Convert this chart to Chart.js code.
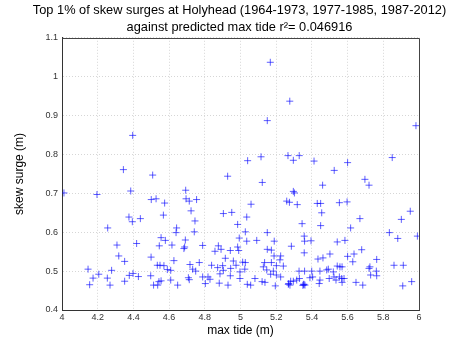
<!DOCTYPE html>
<html>
<head>
<meta charset="utf-8">
<script src="https://cdn.jsdelivr.net/npm/chart.js@4"></script>
<style>
  html, body { margin: 0; padding: 0; background: #fff; }
  #wrap { width: 465px; height: 350px; }
</style>
</head>
<body>
<div id="wrap"><canvas id="chart" width="465" height="350"></canvas></div>
<script>
const titleLines = [
  "Top 1% of skew surges at Holyhead (1964-1973, 1977-1985, 1987-2012)",
  "against predicted max tide r\u00B2= 0.046916"
];
const xTicks = [4, 4.2, 4.4, 4.6, 4.8, 5, 5.2, 5.4, 5.6, 5.8, 6];
const yTicks = [0.4, 0.5, 0.6, 0.7, 0.8, 0.9, 1, 1.1];

// max tide (m)
const maxTide = [
  5.167, 5.276, 5.150, 5.983, 4.396,
  5.040, 5.115, 5.266, 5.296, 5.329, 5.412, 5.600, 5.850, 5.525,
  4.344, 4.508, 4.928, 5.122, 5.697, 5.720, 5.460,
  4.011, 4.196, 4.385, 4.693, 5.296, 5.302,
  4.500, 4.527, 4.575, 4.695, 4.713, 4.754, 5.059, 5.259, 5.274, 5.318, 5.430, 5.449, 5.554, 5.597,
  4.723, 4.904, 4.951, 4.568, 5.455, 5.951,
  4.375, 4.439, 4.394, 5.035, 4.745, 5.669, 5.901,
  4.984, 5.345, 5.449,
  4.256, 4.642, 5.617,
  4.639, 4.741, 5.027, 5.150, 5.834,
  5.357, 5.991, 4.555, 4.993, 5.881,
  4.579, 4.691, 5.035, 5.091, 5.359, 5.189, 5.395, 5.585, 5.542,
  4.308, 4.418, 4.545, 4.616, 4.683, 4.687, 4.788, 4.876, 4.891, 4.857, 4.943, 4.984, 4.990, 5.285, 5.150, 5.173, 5.679,
  4.318, 4.351, 4.499, 4.627, 4.769, 4.915, 4.960, 5.357, 5.501, 5.188, 5.225, 5.221, 5.462, 5.434, 5.600, 5.636, 5.629, 5.763,
  5.012, 5.027, 5.135, 5.173, 5.201, 5.240, 5.128, 5.024, 5.147, 5.184, 5.328, 5.359, 5.399, 5.445, 5.483, 5.492,
  4.534, 4.549, 4.571, 4.590, 4.609, 4.717, 4.732, 4.749, 4.838, 4.872, 4.900, 4.904, 4.945, 4.975, 4.997,
  4.146, 4.278,
  5.542, 5.557, 5.569, 5.725, 5.720, 5.761, 5.860, 5.912, 5.520,
  4.174, 4.206, 4.254, 4.155, 4.269, 4.351, 4.377, 4.398, 4.428, 4.497,
  4.885, 4.943, 4.555, 4.543, 4.513, 4.536, 4.609, 4.648, 4.708, 4.713, 4.788, 4.818, 4.829, 4.803, 4.881, 4.930, 4.997,
  5.169, 5.201, 5.225, 5.081, 5.121, 5.038, 5.057, 5.137, 5.195, 5.268, 5.281, 5.296, 5.315, 5.330, 5.277, 5.352, 5.356, 5.361, 5.389, 5.404, 5.445, 5.441, 5.497,
  5.729, 5.763, 5.524, 5.535, 5.554, 5.567, 5.580, 5.569, 5.647, 5.685, 5.909, 5.959,
  5.270, 5.350
];

// skew surge (m)
const skewSurge = [
  1.037, 0.937, 0.887, 0.874, 0.849,
  0.784, 0.794, 0.797, 0.785, 0.797, 0.783, 0.779, 0.792, 0.759,
  0.761, 0.747, 0.744, 0.728, 0.736, 0.721, 0.721,
  0.701, 0.697, 0.706, 0.708, 0.705, 0.701,
  0.684, 0.686, 0.675, 0.686, 0.680, 0.684, 0.672, 0.680, 0.677, 0.671, 0.674, 0.674, 0.676, 0.678,
  0.655, 0.648, 0.651, 0.644, 0.650, 0.654,
  0.639, 0.635, 0.627, 0.639, 0.629, 0.635, 0.633,
  0.620, 0.622, 0.617,
  0.611, 0.611, 0.611,
  0.599, 0.601, 0.601, 0.599, 0.599,
  0.590, 0.590, 0.586, 0.585, 0.584,
  0.579, 0.580, 0.577, 0.579, 0.577, 0.577, 0.578, 0.579, 0.575,
  0.567, 0.571, 0.565, 0.567, 0.558, 0.562, 0.566, 0.565, 0.556, 0.551, 0.553, 0.562, 0.553, 0.564, 0.556, 0.554, 0.555,
  0.539, 0.525, 0.536, 0.527, 0.522, 0.533, 0.526, 0.547, 0.544, 0.539, 0.539, 0.529, 0.534, 0.531, 0.538, 0.544, 0.524, 0.530,
  0.523, 0.522, 0.522, 0.522, 0.514, 0.513, 0.511, 0.505, 0.503, 0.500, 0.500, 0.500, 0.500, 0.500, 0.503, 0.505,
  0.515, 0.515, 0.514, 0.504, 0.502, 0.517, 0.505, 0.500, 0.515, 0.509, 0.514, 0.502, 0.507, 0.515, 0.498,
  0.505, 0.502,
  0.513, 0.511, 0.511, 0.511, 0.507, 0.500, 0.515, 0.515, 0.498,
  0.482, 0.492, 0.482, 0.465, 0.464, 0.474, 0.489, 0.494, 0.486, 0.488,
  0.493, 0.488, 0.475, 0.473, 0.464, 0.464, 0.477, 0.464, 0.483, 0.478, 0.485, 0.485, 0.479, 0.468, 0.469, 0.464, 0.481,
  0.492, 0.490, 0.485, 0.481, 0.473, 0.466, 0.464, 0.471, 0.462, 0.466, 0.474, 0.474, 0.477, 0.481, 0.464, 0.466, 0.466, 0.464, 0.483, 0.485, 0.477, 0.468, 0.481,
  0.490, 0.488, 0.485, 0.477, 0.485, 0.481, 0.481, 0.471, 0.471, 0.464, 0.462, 0.473,
  0.468, 0.463
];

const points = maxTide.map((x, i) => ({ x, y: skewSurge[i] }));

const font = "'Liberation Sans', Arial, Helvetica, sans-serif";

// top and right edges of the axes box
const boxPlugin = {
  id: "box",
  beforeDatasetsDraw(chart) {
    const { ctx, chartArea: a } = chart;
    ctx.save();
    ctx.strokeStyle = "#444";
    ctx.lineWidth = 1;
    ctx.beginPath();
    ctx.moveTo(Math.round(a.left) + 0.5, Math.round(a.top) + 0.5);
    ctx.lineTo(Math.round(a.right) + 0.5, Math.round(a.top) + 0.5);
    ctx.lineTo(Math.round(a.right) + 0.5, Math.round(a.bottom) + 0.5);
    ctx.stroke();
    ctx.restore();
  }
};

new Chart(document.getElementById("chart"), {
  type: "scatter",
  data: {
    datasets: [{
      data: points,
      pointStyle: "cross",
      pointRadius: 3.5,
      pointHoverRadius: 3.5,
      borderColor: "rgba(10,10,255,0.65)",
      backgroundColor: "rgba(10,10,255,0.65)",
      pointBorderWidth: 1
    }]
  },
  options: {
    responsive: false,
    animation: false,
    events: [],
    layout: { padding: { left: 14, right: 0, top: 0, bottom: 0 } },
    plugins: {
      legend: { display: false },
      tooltip: { enabled: false },
      title: {
        display: true,
        text: titleLines,
        color: "#000",
        font: { family: font, size: 12.8, weight: "normal", lineHeight: 1.32 },
        padding: { top: 2, bottom: 2 }
      }
    },
    scales: {
      x: {
        type: "linear",
        min: 4,
        max: 6,
        afterBuildTicks: (scale) => { scale.ticks = xTicks.map(v => ({ value: v })); },
        afterFit: (scale) => { scale.height = 40; },
        ticks: {
          color: "#333",
          font: { family: font, size: 9 },
          padding: 2,
          maxRotation: 0,
          callback: (v) => String(v)
        },
        grid: { color: "#d6d6d6", drawTicks: false },
        border: { color: "#333", width: 1, dash: [1, 2] },
        title: {
          display: true,
          text: "max tide (m)",
          color: "#000",
          font: { family: font, size: 12 },
          padding: { top: 0, bottom: 12 }
        }
      },
      y: {
        type: "linear",
        min: 0.4,
        max: 1.1,
        afterBuildTicks: (scale) => { scale.ticks = yTicks.map(v => ({ value: v })); },
        afterFit: (scale) => { scale.width = 48; },
        ticks: {
          color: "#333",
          font: { family: font, size: 9 },
          padding: 4,
          callback: (v) => String(Math.round(v * 10) / 10)
        },
        grid: { color: "#d6d6d6", drawTicks: false },
        border: { color: "#333", width: 1, dash: [1, 2] },
        title: {
          display: true,
          text: "skew surge (m)",
          color: "#000",
          font: { family: font, size: 12 },
          padding: { top: -2, bottom: 0 }
        }
      },
      // empty right margin, keeps the title centred over the plot
      yRight: {
        type: "linear",
        position: "right",
        display: true,
        afterFit: (scale) => { scale.width = 46; },
        ticks: { display: false },
        grid: { display: false, drawTicks: false },
        border: { display: false }
      }
    }
  },
  plugins: [boxPlugin]
});
</script>
</body>
</html>
